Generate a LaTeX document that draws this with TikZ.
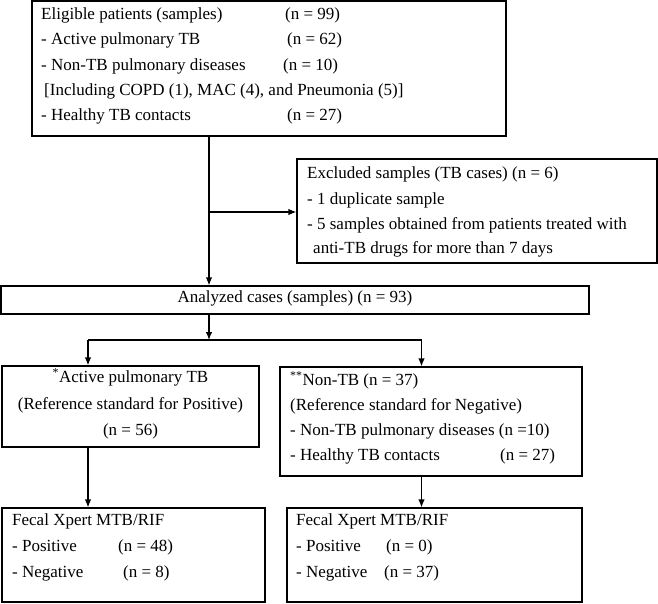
\documentclass[tikz,border=0pt]{standalone}
\usepackage{fontspec}
\setmainfont{Liberation Serif}
\usetikzlibrary{arrows.meta}
\begin{document}
\begin{tikzpicture}[x=1pt,y=-1pt,
  box/.style={draw, line width=1.2pt, rectangle, inner sep=0pt},
  txt/.style={anchor=west, inner sep=0pt, font=\fontsize{17}{20}\selectfont, text height=0.7em, text depth=0.22em},
  ctxt/.style={txt, anchor=center},
  arr/.style={line width=1.2pt, -{Latex[length=8pt,width=6.5pt]}},
  ln/.style={line width=1.2pt}]
\useasboundingbox (0,0) rectangle (658,604);
% boxes
\node[box, minimum width=474pt, minimum height=135pt] (top) at (269,68.5) {};
\node[box, minimum width=360pt, minimum height=104pt] (excl) at (477,211) {};
\node[box, minimum width=588pt, minimum height=28pt] (an) at (295,300) {};
\node[box, minimum width=257pt, minimum height=81pt] (act) at (130.5,406.5) {};
\node[box, minimum width=302pt, minimum height=109pt] (non) at (431,421.5) {};
\node[box, minimum width=263pt, minimum height=94pt] (fl) at (133.5,555) {};
\node[box, minimum width=295pt, minimum height=94pt] (fr) at (434.5,555) {};
% top box text
\node[txt] (t1) at (41,17) {Eligible patients (samples)};
\node[txt] (t1n) at (285,17) {(n = 99)};
\node[txt] (t2) at (41,42) {- Active pulmonary TB};
\node[txt] (t2n) at (287,42) {(n = 62)};
\node[txt] (t3) at (41,68) {- Non-TB pulmonary diseases};
\node[txt] (t3n) at (283,68) {(n = 10)};
\node[txt] (t4) at (44,93) {[Including COPD (1), MAC (4), and Pneumonia (5)]};
\node[txt] (t5) at (41,118) {- Healthy TB contacts};
\node[txt] (t5n) at (287,118) {(n = 27)};
% excluded text
\node[txt] (e1) at (307,176) {Excluded samples (TB cases) (n = 6)};
\node[txt] (e2) at (307,202) {- 1 duplicate sample};
\node[txt] (e3) at (307,227) {- 5 samples obtained from patients treated with};
\node[txt] (e4) at (313,251) {anti-TB drugs for more than 7 days};
% analyzed
\node[ctxt] (a1) at (295,300) {Analyzed cases (samples) (n = 93)};
% active
\node[ctxt] (p1) at (130.5,380) {\textsuperscript{*}Active pulmonary TB};
\node[ctxt] (p2) at (130.5,407) {(Reference standard for Positive)};
\node[ctxt] (p3) at (130.5,433) {(n = 56)};
% non-TB
\node[txt] (n1) at (290,383) {\textsuperscript{**}Non-TB (n = 37)};
\node[txt] (n2) at (290,408) {(Reference standard for Negative)};
\node[txt] (n3) at (290,433) {- Non-TB pulmonary diseases (n =10)};
\node[txt] (n4) at (290,458) {- Healthy TB contacts};
\node[txt] (n4n) at (500,458) {(n = 27)};
% fecal left
\node[txt] (l1) at (12,523) {Fecal Xpert MTB/RIF};
\node[txt] (l2) at (12,549) {- Positive};
\node[txt] (l2n) at (118,549) {(n = 48)};
\node[txt] (l3) at (12,575) {- Negative};
\node[txt] (l3n) at (123,575) {(n = 8)};
% fecal right
\node[txt] (r1) at (296,523) {Fecal Xpert MTB/RIF};
\node[txt] (r2) at (296,549) {- Positive};
\node[txt] (r2n) at (386,549) {(n = 0)};
\node[txt] (r3) at (296,575) {- Negative};
\node[txt] (r3n) at (384,575) {(n = 37)};
% connectors
\coordinate (j1) at (209,212);
\coordinate (j2) at (209,340);
\coordinate (bl) at (88,340);
\coordinate (br) at (421.5,340);
\draw[arr] (top.south -| j1) -- (an.north -| j1);
\draw[arr] (j1) -- (excl.west |- j1);
\draw[arr] (an.south -| j2) -- (j2);
\draw[ln] (bl) -- (br);
\draw[arr] (bl) -- (act.north -| bl);
\draw[arr] (br) -- (non.north -| br);
\draw[arr] (act.south -| bl) -- (fl.north -| bl);
\draw[arr] (non.south -| br) -- (fr.north -| br);
\end{tikzpicture}
\end{document}
